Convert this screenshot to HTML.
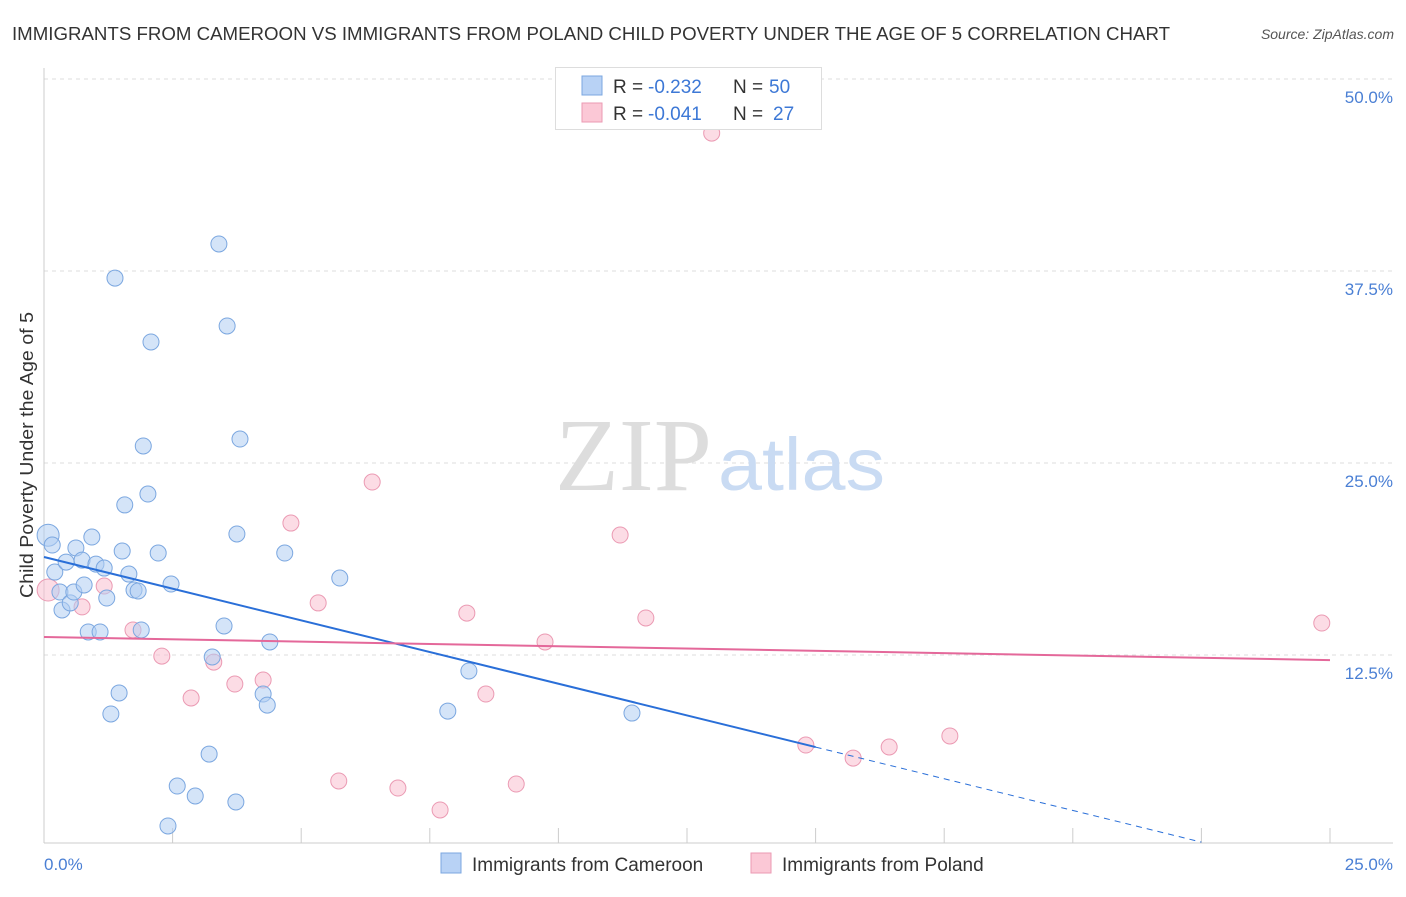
<!DOCTYPE html>
<html><head><meta charset="utf-8">
<style>
body{margin:0;background:#fff;font-family:"Liberation Sans",sans-serif;}
svg text{font-family:"Liberation Sans",sans-serif;}
</style></head>
<body>
<svg width="1406" height="892" viewBox="0 0 1406 892">
<text x="12" y="40" font-size="18" fill="#333" textLength="1158" lengthAdjust="spacingAndGlyphs">IMMIGRANTS FROM CAMEROON VS IMMIGRANTS FROM POLAND CHILD POVERTY UNDER THE AGE OF 5 CORRELATION CHART</text>
<text x="1394" y="39" font-size="14" fill="#555" text-anchor="end" font-style="italic">Source: ZipAtlas.com</text>
<g id="grid"></g>
<g>
<text x="555" y="490" font-size="104" fill="#ddd" textLength="157" lengthAdjust="spacingAndGlyphs" style="font-family:'Liberation Serif',serif">ZIP</text>
<text x="718" y="490" font-size="74" fill="#c9dbf3" textLength="167" lengthAdjust="spacingAndGlyphs">atlas</text>
</g>
<line x1="44" y1="68" x2="44" y2="843" stroke="#ccc"/>
<line x1="44" y1="843" x2="1393" y2="843" stroke="#ccc"/>
<g id="xticks"></g>
<text x="44" y="870" font-size="17" fill="#4a7fd4">0.0%</text>
<text x="1393" y="870" font-size="17" fill="#4a7fd4" text-anchor="end">25.0%</text>
<text transform="translate(33,455) rotate(-90)" font-size="18" fill="#333" text-anchor="middle" textLength="286" lengthAdjust="spacingAndGlyphs">Child Poverty Under the Age of 5</text>
<g id="pts"></g>
<g id="trends"></g>
<g>
<rect x="555.5" y="67.5" width="266" height="62" fill="#fff" stroke="#ddd"/>
<rect x="582" y="76" width="20" height="19" fill="#b8d2f5" stroke="#7ba7e0"/>
<rect x="582" y="103" width="20" height="19" fill="#fbc8d6" stroke="#eb9ab3"/>
<text x="613" y="93" font-size="19" fill="#333">R =</text>
<text x="648" y="93" font-size="19" fill="#3d78d6">-0.232</text>
<text x="733" y="93" font-size="19" fill="#333">N =</text>
<text x="769" y="93" font-size="19" fill="#3d78d6">50</text>
<text x="613" y="120" font-size="19" fill="#333">R =</text>
<text x="648" y="120" font-size="19" fill="#3d78d6">-0.041</text>
<text x="733" y="120" font-size="19" fill="#333">N =</text>
<text x="773" y="120" font-size="19" fill="#3d78d6">27</text>
</g>
<g>
<rect x="441" y="853" width="20" height="20" fill="#b8d2f5" stroke="#7ba7e0"/>
<text x="472" y="871" font-size="19" fill="#333">Immigrants from Cameroon</text>
<rect x="751" y="853" width="20" height="20" fill="#fbc8d6" stroke="#eb9ab3"/>
<text x="782" y="871" font-size="19" fill="#333">Immigrants from Poland</text>
</g>
</svg>
<script>
const yTicks=[12.5,25,37.5,50];
const yTickLabels=["12.5%","25.0%","37.5%","50.0%"];
const blueX=[0.08,0.16,0.21,0.31,0.35,0.43,0.51,0.58,0.62,0.74,0.78,0.86,0.93,1.01,1.09,1.17,1.22,1.30,1.38,1.46,1.52,1.57,1.65,1.75,1.83,1.89,1.93,2.02,2.08,2.22,2.41,2.47,2.59,2.94,3.21,3.27,3.40,3.50,3.56,3.73,3.75,3.81,4.26,4.34,4.39,4.68,5.75,7.85,8.26,11.43];
const blueY=[20.3,19.66,17.9,16.6,15.43,18.55,15.89,16.6,19.47,18.68,17.06,14.0,20.18,18.42,14.0,18.16,16.21,8.66,37.04,10.03,19.27,22.27,17.77,16.73,16.67,14.13,26.11,22.98,32.88,19.14,1.37,17.12,3.97,3.32,6.05,12.37,39.26,14.39,33.92,2.93,20.38,26.56,9.96,9.24,13.35,19.14,17.51,8.85,11.46,8.72];
const pinkX=[0.08,0.74,1.17,1.73,2.29,2.86,3.30,3.71,4.26,4.80,5.33,5.73,6.38,6.88,7.70,8.22,8.59,9.18,9.74,11.20,11.70,12.98,14.81,15.73,16.43,17.61,24.84];
const pinkY=[16.73,15.63,16.99,14.13,12.43,9.70,12.04,10.61,10.87,21.09,15.89,4.30,23.76,3.84,2.41,15.23,9.96,4.10,13.35,20.31,14.91,46.48,6.64,5.79,6.51,7.23,14.58];
const blueTrend=[18.88,-0.825];
const pinkTrend=[13.67,-0.06];
const NS="http://www.w3.org/2000/svg";
const sx=v=>44+v/25*1286;
const sy=v=>847-v/50*768;
function mk(tag,attrs,parent){const e=document.createElementNS(NS,tag);for(const k in attrs)e.setAttribute(k,attrs[k]);parent.appendChild(e);return e;}
const grid=document.getElementById('grid');
yTicks.forEach((t,i)=>{
  const l=mk('line',{x1:44,x2:1393,y1:sy(t),y2:sy(t),stroke:'#ddd','stroke-dasharray':'4,4'},grid);
  
  
  const tx=mk('text',{x:1393,y:sy(t)+24,'font-size':17,fill:'#4a7fd4','text-anchor':'end'},grid);
  tx.textContent=yTickLabels[i];
  
  
});
const xt=document.getElementById('xticks');
for(let i=1;i<=10;i++){
  const l=mk('line',{x1:sx(i*2.5),x2:sx(i*2.5),y1:828,y2:843,stroke:'#ccc'},xt);
  
  
}
const pts=document.getElementById('pts');
function draw(X,Y,fill,stroke,name){
  X.forEach((x,i)=>{
    const c=mk('circle',{cx:sx(x),cy:sy(Y[i]),r:i===0?11:8,fill:fill,'fill-opacity':0.55,stroke:stroke,'stroke-width':1},pts);
    
    
  });
}
draw(pinkX,pinkY,'#f9c0d0','#eb9ab3','poland-point');
draw(blueX,blueY,'#b0cdf3','#7ba7e0','cameroon-point');
const tr=document.getElementById('trends');
const b1=mk('line',{x1:sx(0),y1:sy(blueTrend[0]),x2:sx(15),y2:sy(blueTrend[0]+blueTrend[1]*15),stroke:'#2a6fd8','stroke-width':2},tr);


const b2=mk('line',{x1:sx(15),y1:sy(blueTrend[0]+blueTrend[1]*15),x2:sx(22.5),y2:sy(blueTrend[0]+blueTrend[1]*22.5),stroke:'#2a6fd8','stroke-width':1,'stroke-dasharray':'6,5'},tr);


const p1=mk('line',{x1:sx(0),y1:sy(pinkTrend[0]),x2:sx(25),y2:sy(pinkTrend[0]+pinkTrend[1]*25),stroke:'#e4689a','stroke-width':2},tr);


</script>
</body></html>
